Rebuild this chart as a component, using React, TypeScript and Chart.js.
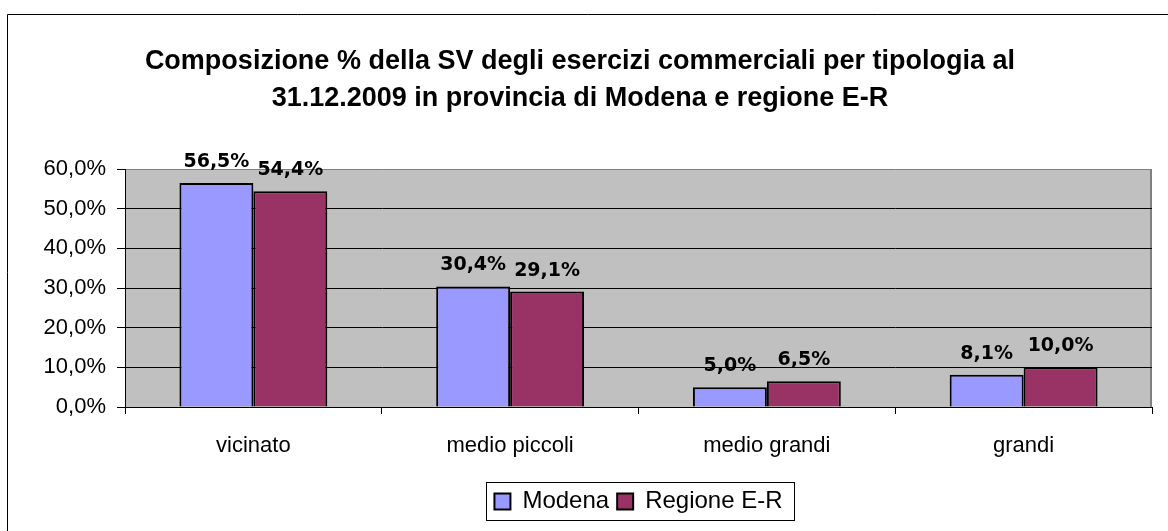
import React, { useEffect, useRef } from 'react';
import { Chart, registerables } from 'chart.js';

Chart.register(...registerables);

const categories = ['vicinato', 'medio piccoli', 'medio grandi', 'grandi'];
const seriesNames = ['Modena', 'Regione E-R'];
const modenaValues = [56.5, 30.4, 5.0, 8.1];
const regioneValues = [54.4, 29.1, 6.5, 10.0];
const yMin = 0;
const yMax = 60;
const yStep = 10;
const titleLines = [
  'Composizione % della SV degli esercizi commerciali per tipologia al',
  '31.12.2009 in provincia di Modena e regione E-R',
];

const FONT = '"Liberation Sans", Arial, sans-serif';
const fmt = (v: number) => Number(v).toFixed(1).replace('.', ',') + '%';

const frameAndBg = {
  id: 'frameAndBg',
  beforeDraw(chart: any) {
    const { ctx, chartArea: a } = chart;
    ctx.save();
    ctx.fillStyle = '#C0C0C0';
    ctx.fillRect(a.left, a.top, a.right - a.left, a.bottom - a.top);
    ctx.strokeStyle = '#808080';
    ctx.lineWidth = 2;
    ctx.beginPath();
    ctx.moveTo(a.right - 1, a.top);
    ctx.lineTo(a.right - 1, a.bottom);
    ctx.stroke();
    ctx.strokeStyle = '#000';
    ctx.lineWidth = 1;
    ctx.beginPath();
    ctx.moveTo(7.5, chart.height);
    ctx.lineTo(7.5, 14.5);
    ctx.lineTo(chart.width, 14.5);
    ctx.stroke();
    ctx.restore();
  },
};

const valueLabels = {
  id: 'valueLabels',
  afterDatasetsDraw(chart: any) {
    const ctx = chart.ctx;
    ctx.save();
    ctx.font = 'bold 19px "DejaVu Sans", Verdana, sans-serif';
    ctx.fillStyle = '#000';
    ctx.textAlign = 'center';
    ctx.textBaseline = 'middle';
    chart.data.datasets.forEach((ds: any, i: number) => {
      chart.getDatasetMeta(i).data.forEach((bar: any, j: number) => {
        ctx.fillText(fmt(ds.data[j]), bar.x, bar.y - 21);
      });
    });
    ctx.restore();
  },
};

const legendFrame = {
  id: 'legendFrame',
  afterDraw(chart: any) {
    const hb = chart.legend && chart.legend.legendHitBoxes;
    if (!hb || !hb.length) return;
    const ctx = chart.ctx;
    const left = Math.min(...hb.map((h: any) => h.left)) - 8;
    const right = Math.max(...hb.map((h: any) => h.left + h.width)) + 12;
    const top = Math.min(...hb.map((h: any) => h.top)) - 8;
    const bottom = Math.max(...hb.map((h: any) => h.top + h.height)) + 6;
    ctx.save();
    ctx.strokeStyle = '#000';
    ctx.lineWidth = 1;
    ctx.strokeRect(Math.round(left) + 0.5, Math.round(top) + 0.5, Math.round(right - left), Math.round(bottom - top));
    ctx.restore();
  },
};

export default function App() {
  const ref = useRef<HTMLCanvasElement | null>(null);

  useEffect(() => {
    if (!ref.current) return;
    const chart = new Chart(ref.current, {
      type: 'bar',
      data: {
        labels: categories,
        datasets: [
          {
            label: seriesNames[0],
            data: modenaValues,
            backgroundColor: '#9999FF',
            borderColor: '#000',
            borderWidth: 2,
            categoryPercentage: 0.576,
            barPercentage: 1.0,
          },
          {
            label: seriesNames[1],
            data: regioneValues,
            backgroundColor: '#993366',
            borderColor: '#000',
            borderWidth: 2,
            categoryPercentage: 0.576,
            barPercentage: 1.0,
          },
        ],
      },
      options: {
        animation: false,
        responsive: false,
        layout: { padding: { left: 8, right: 16, top: 0, bottom: 7.5 } },
        plugins: {
          title: {
            display: true,
            text: titleLines,
            color: '#000',
            font: { family: FONT, size: 27, weight: 'bold', lineHeight: 1.389 },
            padding: { top: 42.5, bottom: 51.5 },
          },
          legend: {
            position: 'bottom',
            fullSize: false,
            labels: {
              color: '#000',
              font: { family: FONT, size: 24 },
              boxWidth: 16,
              boxHeight: 16,
              padding: 8,
            },
          },
          tooltip: { enabled: false },
        },
        scales: {
          x: {
            grid: { offset: true, drawOnChartArea: false, tickLength: 7, tickColor: '#000' },
            border: { color: '#000', width: 1 },
            ticks: { color: '#000', font: { family: FONT, size: 22 }, padding: 19, maxRotation: 0 },
            afterFit: (s: any) => {
              s.height = 74.5;
            },
          },
          y: {
            min: yMin,
            max: yMax,
            ticks: {
              stepSize: yStep,
              callback: (v: any) => fmt(v),
              color: '#000',
              font: { family: FONT, size: 22 },
              padding: 11,
            },
            grid: {
              color: (c: any) => (c.tick && c.tick.value === yMax ? '#808080' : '#000'),
              tickLength: 8,
              tickColor: '#000',
              lineWidth: 1,
            },
            border: { color: '#000', width: 1 },
            afterFit: (s: any) => {
              s.width = 117;
            },
          },
        },
      } as any,
      plugins: [frameAndBg, valueLabels, legendFrame],
    });
    return () => chart.destroy();
  }, []);

  return (
    <div style={{ position: 'fixed', left: 0, top: 0, width: 1168, height: 531, background: '#fff' }}>
      <canvas ref={ref} width={1168} height={531} style={{ display: 'block' }} />
    </div>
  );
}
